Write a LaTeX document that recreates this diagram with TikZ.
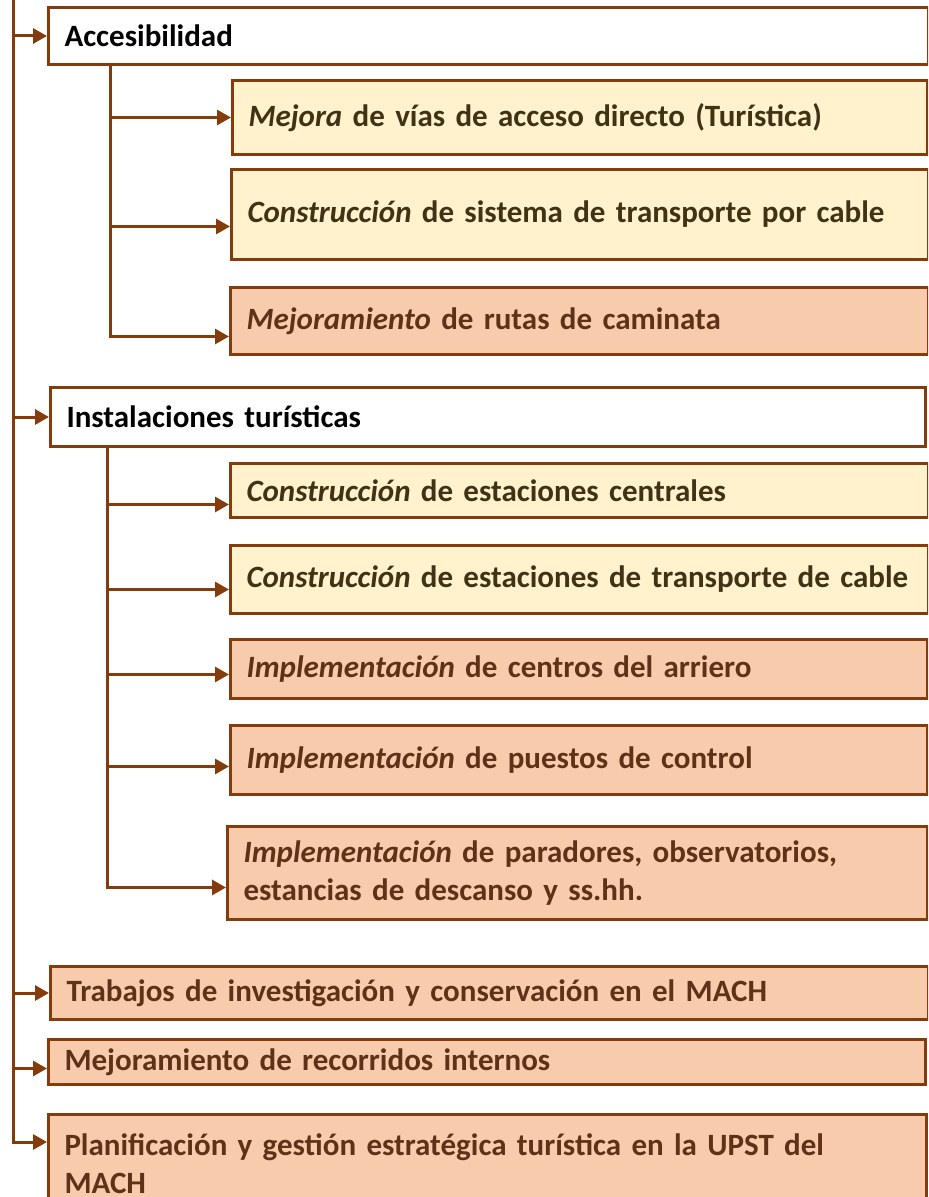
\documentclass[tikz,border=0pt]{standalone}
\usepackage{fontspec}
\setmainfont{Carlito}
\usetikzlibrary{arrows.meta,positioning}

\definecolor{brownline}{RGB}{132,60,12}
\definecolor{paleyellow}{RGB}{255,242,204}
\definecolor{peach}{RGB}{248,203,173}
\definecolor{yellowtext}{RGB}{64,50,20}
\definecolor{peachtext}{RGB}{94,50,22}

\begin{document}
\begin{tikzpicture}[x=0.5pt, y=-0.5pt,
    link/.style={draw=brownline, line width=1.5pt},
    arr/.style={link, -{Triangle[length=7pt,width=7.5pt]}},
    box/.style={draw=brownline, line width=1.5pt, anchor=north west, align=left,
        inner xsep=8pt, inner ysep=0pt, font=\fontsize{15.5}{19}\selectfont\bfseries},
    headbox/.style={box, fill=white, text=black},
    yellowbox/.style={box, fill=paleyellow, text=yellowtext},
    peachbox/.style={box, fill=peach, text=peachtext}]

    \useasboundingbox (0,0) rectangle (928,1197);
    \clip (0,0) rectangle (928,1197);

    % Draw the boxes
    \node[headbox, text width=424pt, minimum height=28.5pt] (acc) at (47,6) {Accesibilidad};
    \node[yellowbox, text width=331.5pt, minimum height=37pt] (m1) at (231,79) {\textit{Mejora} de vías de acceso directo (Turística)};
    \node[yellowbox, text width=332.5pt, minimum height=45pt] (m2) at (230,168) {\textit{Construcción} de sistema de transporte por cable};
    \node[peachbox, text width=333pt, minimum height=33.5pt] (m3) at (229,286) {\textit{Mejoramiento} de rutas de caminata};

    \node[headbox, text width=421.5pt, minimum height=29.5pt] (ins) at (49,386) {Instalaciones turísticas};
    \node[yellowbox, text width=333pt, minimum height=27pt] (e1) at (229,462) {\textit{Construcción} de estaciones centrales};
    \node[yellowbox, text width=333pt, minimum height=34pt] (e2) at (229,544) {\textit{Construcción} de estaciones de transporte de cable};
    \node[peachbox, text width=332.5pt, minimum height=29.5pt] (e3) at (229,638) {\textit{Implementación} de centros del arriero};
    \node[peachbox, text width=332.5pt, minimum height=34.5pt] (e4) at (229,724) {\textit{Implementación} de puestos de control};
    \node[peachbox, text width=334pt, minimum height=46.5pt] (e5) at (226,825) {\textit{Implementación} de paradores, observatorios,\\estancias de descanso y ss.hh.};

    \node[peachbox, text width=423pt, minimum height=26.5pt] (t1) at (49,965) {Trabajos de investigación y conservación en el MACH};
    \node[peachbox, text width=422.5pt, minimum height=22.5pt] (t2) at (47,1038) {Mejoramiento de recorridos internos};
    \node[peachbox, text width=423pt, minimum height=49pt] (t3) at (47,1113) {Planificación y gestión estratégica turística en la UPST del\\MACH};

    % Draw the main line and its branches
    \coordinate (top) at (13,0);
    \coordinate (p1) at (acc.west);
    \coordinate (p2) at (ins.west);
    \coordinate (p3) at (t1.west);
    \coordinate (p4) at ([yshift=-3.25pt]t2.west);
    \coordinate (p5) at ([yshift=-14.5pt]t3.north west);
    \draw[arr] (top) |- (p5);
    \draw[arr] (top |- p1) -- (p1);
    \draw[arr] (top |- p2) -- (p2);
    \draw[arr] (top |- p3) -- (p3);
    \draw[arr] (top |- p4) -- (p4);

    % Draw the branches under Accesibilidad
    \coordinate (accfoot) at ([xshift=31.5pt]acc.south west);
    \coordinate (q1) at (m1.west);
    \coordinate (q2) at ([yshift=-6pt]m2.west);
    \coordinate (q3) at ([yshift=-7.75pt]m3.west);
    \draw[arr] (accfoot) |- (q3);
    \draw[arr] (accfoot |- q1) -- (q1);
    \draw[arr] (accfoot |- q2) -- (q2);

    % Draw the branches under Instalaciones
    \coordinate (insfoot) at ([xshift=29pt]ins.south west);
    \coordinate (r1) at ([yshift=-7pt]e1.west);
    \coordinate (r2) at ([yshift=-5pt]e2.west);
    \coordinate (r3) at ([yshift=-2.75pt]e3.west);
    \coordinate (r4) at ([yshift=-3.25pt]e4.west);
    \coordinate (r5) at ([yshift=-7.25pt]e5.west);
    \draw[arr] (insfoot) |- (r5);
    \draw[arr] (insfoot |- r1) -- (r1);
    \draw[arr] (insfoot |- r2) -- (r2);
    \draw[arr] (insfoot |- r3) -- (r3);
    \draw[arr] (insfoot |- r4) -- (r4);

\end{tikzpicture}
\end{document}
